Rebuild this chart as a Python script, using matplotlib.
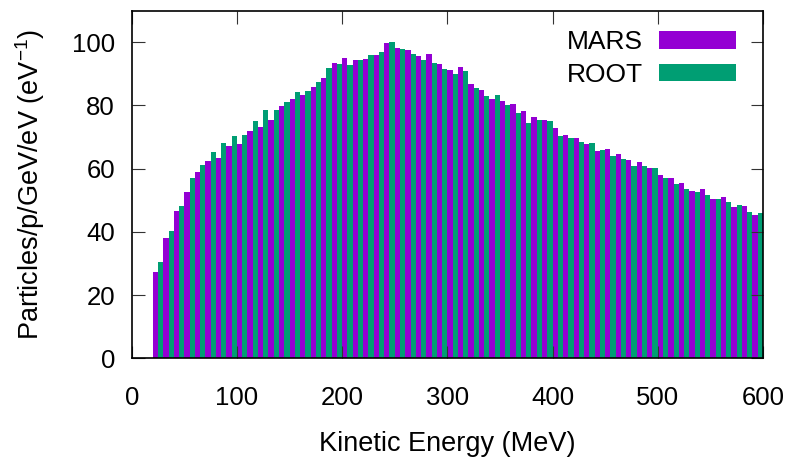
import matplotlib
matplotlib.use("Agg")
import matplotlib.pyplot as plt
import numpy as np

plt.rcParams["font.family"] = ["Liberation Sans", "DejaVu Sans"]
plt.rcParams["mathtext.default"] = "regular"

# bin lower edges (MeV), 10 MeV bins from 20 to 600
bin_lo = np.arange(20, 600, 10)

mars = [27.3, 38.1, 46.6, 52.6, 59.0, 62.4, 63.4, 67.2, 67.8, 71.9,
        73.2, 75.4, 79.9, 82.1, 83.3, 85.9, 88.7, 93.5, 95.0, 94.4,
        94.7, 96.0, 99.8, 98.2, 97.6, 95.7, 96.3, 93.1, 91.2, 92.2,
        86.8, 84.9, 82.1, 81.4, 80.5, 78.3, 76.4, 75.4, 72.9, 70.7,
        69.7, 67.8, 65.6, 66.2, 64.7, 62.8, 62.1, 60.2, 58.0, 57.1,
        55.5, 53.0, 53.6, 50.4, 51.1, 47.9, 48.2, 45.4]
root = [30.5, 40.3, 48.2, 57.1, 61.2, 65.3, 68.1, 70.4, 70.7, 75.1,
        78.6, 78.6, 81.1, 84.3, 84.6, 87.4, 91.9, 93.1, 92.8, 94.4,
        96.0, 96.9, 100.1, 97.9, 96.3, 94.4, 93.5, 91.6, 90.0, 90.9,
        85.5, 83.0, 83.3, 80.2, 77.6, 74.5, 75.4, 75.1, 70.4, 69.7,
        68.5, 68.1, 65.9, 64.0, 63.1, 60.9, 60.9, 60.2, 57.1, 55.2,
        53.6, 52.6, 51.7, 50.4, 49.5, 48.5, 46.3, 46.0]

PURPLE = "#9400d3"
GREEN = "#009e73"

fig = plt.figure(figsize=(7.92, 4.59), dpi=100)
ax = fig.add_axes([0.1663, 0.2194, 0.797, 0.7573])

ax.bar(bin_lo, mars, width=5, align="edge", color=PURPLE, label="MARS", linewidth=0)
ax.bar(bin_lo + 5, root, width=5, align="edge", color=GREEN, label="ROOT", linewidth=0)

ax.set_xlim(0, 600)
ax.set_ylim(0, 110)
ax.set_xticks(range(0, 601, 100))
ax.set_yticks(range(0, 101, 20))
ax.tick_params(direction="in", length=9, width=0.8, top=True, right=True,
               labelsize=18.5, color="#333333")
ax.tick_params(axis="y", pad=12)
ax.tick_params(axis="x", pad=20)
for sp in ax.spines.values():
    sp.set_linewidth(1.2)

ax.set_xlabel("Kinetic Energy (MeV)", fontsize=19.5, labelpad=15)
ax.set_ylabel("Particles/p/GeV/eV (eV$^{-1}$)", fontsize=19.5, labelpad=18)

ax.legend(loc="upper right", frameon=False, fontsize=19, markerfirst=False,
          handlelength=2.9, handleheight=0.64, labelspacing=0.33,
          handletextpad=0.6, borderaxespad=0.4, bbox_to_anchor=(0.99, 1.005))

fig.savefig("out.png", dpi=100)
